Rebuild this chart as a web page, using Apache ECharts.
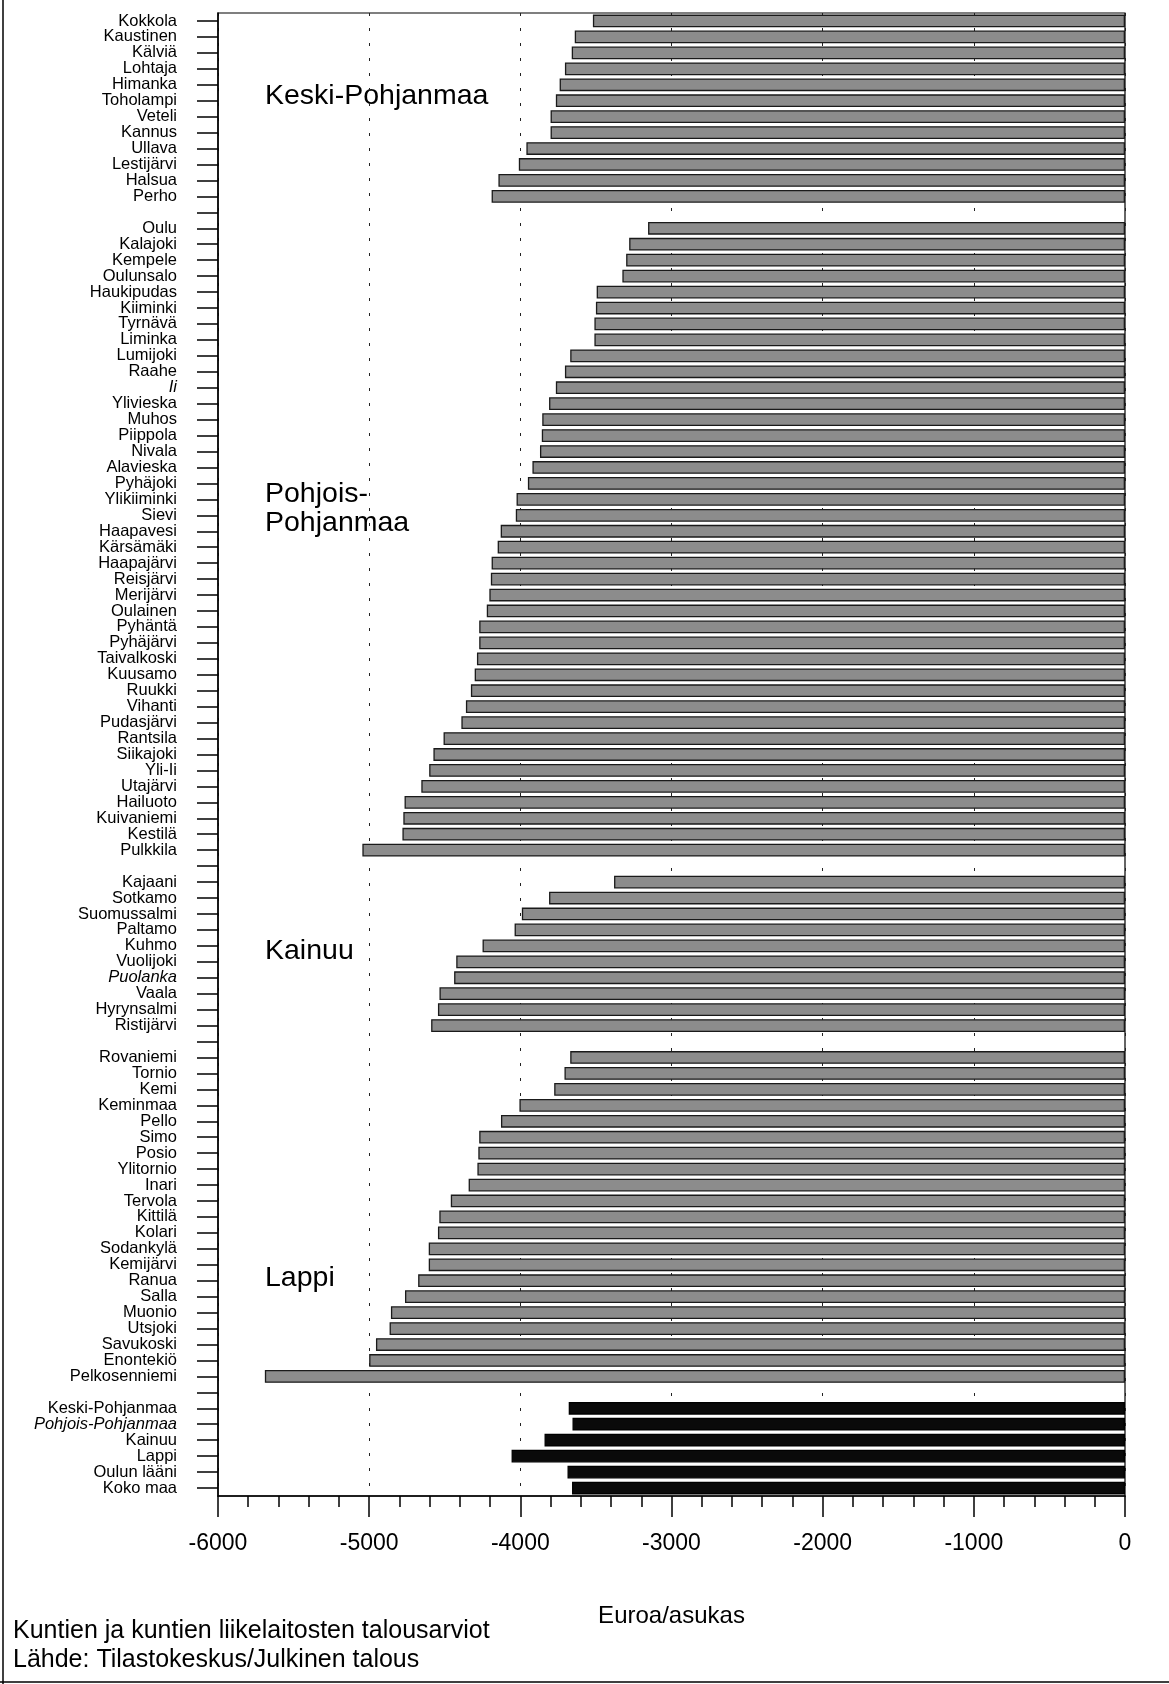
<!DOCTYPE html>
<html>
<head>
<meta charset="utf-8">
<script src="https://cdn.jsdelivr.net/npm/echarts@6/dist/echarts.min.js"></script>
<style>
  html, body { margin: 0; padding: 0; background: #fff; }
  #chart { width: 1169px; height: 1684px; }
</style>
</head>
<body>
<div id="chart"></div>
<script>
// Keski-Pohjanmaa
var kpNames = ['Kokkola', 'Kaustinen', 'Kälviä', 'Lohtaja', 'Himanka', 'Toholampi', 'Veteli', 'Kannus', 'Ullava', 'Lestijärvi', 'Halsua', 'Perho']
var kpValues = [-3520, -3640, -3660, -3705, -3740, -3765, -3800, -3800, -3960, -4010, -4145, -4190]

// Pohjois-Pohjanmaa
var ppNames = ['Oulu', 'Kalajoki', 'Kempele', 'Oulunsalo', 'Haukipudas', 'Kiiminki', 'Tyrnävä', 'Liminka', 'Lumijoki', 'Raahe',
  'Ii', 'Ylivieska', 'Muhos', 'Piippola', 'Nivala', 'Alavieska', 'Pyhäjoki', 'Ylikiiminki', 'Sievi', 'Haapavesi',
  'Kärsämäki', 'Haapajärvi', 'Reisjärvi', 'Merijärvi', 'Oulainen', 'Pyhäntä', 'Pyhäjärvi', 'Taivalkoski', 'Kuusamo', 'Ruukki',
  'Vihanti', 'Pudasjärvi', 'Rantsila', 'Siikajoki', 'Yli-Ii', 'Utajärvi', 'Hailuoto', 'Kuivaniemi', 'Kestilä', 'Pulkkila']
var ppValues = [-3155, -3280, -3300, -3325, -3495, -3500, -3510, -3510, -3670, -3705,
  -3765, -3810, -3855, -3858, -3870, -3920, -3950, -4025, -4030, -4130,
  -4150, -4190, -4195, -4205, -4222, -4272, -4272, -4287, -4302, -4327,
  -4360, -4390, -4508, -4575, -4603, -4655, -4766, -4774, -4780, -5045]

// Kainuu
var kaNames = ['Kajaani', 'Sotkamo', 'Suomussalmi', 'Paltamo', 'Kuhmo', 'Vuolijoki', 'Puolanka', 'Vaala', 'Hyrynsalmi', 'Ristijärvi']
var kaValues = [-3380, -3810, -3990, -4038, -4250, -4424, -4438, -4535, -4545, -4590]

// Lappi
var laNames = ['Rovaniemi', 'Tornio', 'Kemi', 'Keminmaa', 'Pello', 'Simo', 'Posio', 'Ylitornio', 'Inari', 'Tervola',
  'Kittilä', 'Kolari', 'Sodankylä', 'Kemijärvi', 'Ranua', 'Salla', 'Muonio', 'Utsjoki', 'Savukoski', 'Enontekiö', 'Pelkosenniemi']
var laValues = [-3670, -3708, -3776, -4006, -4128, -4272, -4278, -4284, -4342, -4460,
  -4536, -4545, -4606, -4606, -4676, -4763, -4856, -4865, -4955, -5000, -5690]

// yhteensä
var sumNames = ['Keski-Pohjanmaa', 'Pohjois-Pohjanmaa', 'Kainuu', 'Lappi', 'Oulun lääni', 'Koko maa']
var sumValues = [-3680, -3655, -3840, -4058, -3688, -3658]

var xTicks = [-6000, -5000, -4000, -3000, -2000, -1000, 0]

var italicNames = ['Ii', 'Puolanka', 'Pohjois-Pohjanmaa']

// rakennetaan kategoriat, väliin tyhjät rivit
var categories = []
var barData = []
var groups = [[kpNames, kpValues], [ppNames, ppValues], [kaNames, kaValues], [laNames, laValues]]
groups.forEach(function (g, gi) {
  g[0].forEach(function (n, i) {
    categories.push(n)
    barData.push(g[1][i])
  })
  categories.push(' '.repeat(gi + 1))
  barData.push('-')
})
sumNames.forEach(function (n, i) {
  categories.push(n)
  barData.push({ value: sumValues[i], itemStyle: { color: '#0a0a0a', borderColor: '#000' } })
})

var FONT = '"Liberation Sans", Arial, sans-serif'

var chart = echarts.init(document.getElementById('chart'), null, { renderer: 'canvas' })

var option = {
  backgroundColor: '#fff',
  animation: false,
  textStyle: { fontFamily: FONT, color: '#000' },
  grid: {
    left: 218,
    right: 44,
    top: 13,
    bottom: 188,
    show: true,
    borderColor: '#000',
    borderWidth: 1.2
  },
  xAxis: {
    type: 'value',
    min: xTicks[0],
    max: xTicks[xTicks.length - 1],
    interval: 1000,
    name: 'Euroa/asukas',
    nameLocation: 'middle',
    nameGap: 108,
    nameTextStyle: { fontSize: 24, color: '#000', fontFamily: FONT },
    axisLine: { show: true, onZero: false, lineStyle: { color: '#000', width: 1.5 } },
    axisTick: { show: true, length: 21, lineStyle: { color: '#000', width: 1.5 } },
    minorTick: { show: true, splitNumber: 5, length: 11, lineStyle: { color: '#000', width: 1.5 } },
    axisLabel: {
      fontSize: 23, color: '#000', margin: 36, fontFamily: FONT,
      formatter: function (v) { return String(v) }
    },
    splitLine: { show: true, lineStyle: { color: '#222', width: 1, type: [3, 12] } }
  },
  yAxis: {
    type: 'category',
    inverse: true,
    data: categories,
    axisLine: { show: true, onZero: false, lineStyle: { color: '#000', width: 1.5 } },
    axisTick: { show: true, alignWithLabel: true, interval: 0, length: 21, lineStyle: { color: '#000', width: 1.5 } },
    axisLabel: {
      interval: 0,
      fontSize: 16.5,
      color: '#000',
      margin: 41,
      fontFamily: FONT,
      formatter: function (v) {
        return italicNames.indexOf(v) >= 0 ? '{it|' + v + '}' : v
      },
      rich: { it: { fontStyle: 'italic', fontSize: 16.5, color: '#000', fontFamily: FONT } }
    },
    splitLine: { show: false }
  },
  series: [{
    type: 'bar',
    data: barData,
    barCategoryGap: '20%',
    itemStyle: { color: '#8c8c8c', borderColor: '#1a1a1a', borderWidth: 1.3 }
  }],
  graphic: [
    { type: 'text', x: 265, y: 96, style: { text: 'Keski-Pohjanmaa', fontSize: 28.5, fontFamily: FONT, fill: '#000', verticalAlign: 'middle' } },
    { type: 'text', x: 265, y: 494, style: { text: 'Pohjois-', fontSize: 28.5, fontFamily: FONT, fill: '#000', verticalAlign: 'middle' } },
    { type: 'text', x: 265, y: 523, style: { text: 'Pohjanmaa', fontSize: 28.5, fontFamily: FONT, fill: '#000', verticalAlign: 'middle' } },
    { type: 'text', x: 265, y: 951, style: { text: 'Kainuu', fontSize: 28.5, fontFamily: FONT, fill: '#000', verticalAlign: 'middle' } },
    { type: 'text', x: 265, y: 1278, style: { text: 'Lappi', fontSize: 28.5, fontFamily: FONT, fill: '#000', verticalAlign: 'middle' } },
    { type: 'text', x: 13, y: 1631, style: { text: 'Kuntien ja kuntien liikelaitosten talousarviot', fontSize: 25, fontFamily: FONT, fill: '#000', verticalAlign: 'middle' } },
    { type: 'text', x: 13, y: 1660, style: { text: 'Lähde: Tilastokeskus/Julkinen talous', fontSize: 25, fontFamily: FONT, fill: '#000', verticalAlign: 'middle' } },
    { type: 'line', shape: { x1: 3, y1: 0, x2: 3, y2: 1684 }, style: { stroke: '#000', lineWidth: 1.5 } },
    { type: 'line', shape: { x1: 0, y1: 1682, x2: 1169, y2: 1682 }, style: { stroke: '#000', lineWidth: 1.5 } }
  ]
}

chart.setOption(option)
</script>
</body>
</html>
